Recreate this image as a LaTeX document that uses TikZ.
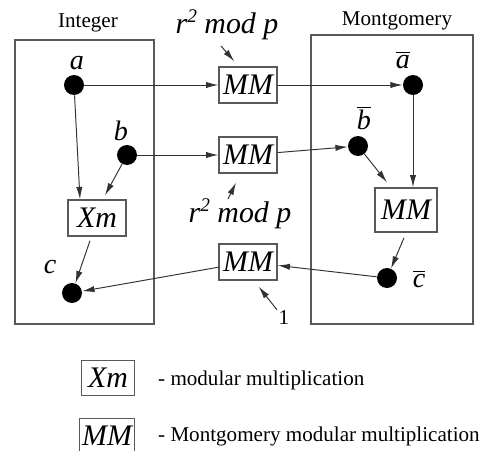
\documentclass[tikz,border=0pt]{standalone}
\usepackage{fontspec}
\setmainfont{Liberation Serif}
\usetikzlibrary{arrows.meta,calc}
\definecolor{LineClr}{rgb}{0.2,0.2,0.2}
\definecolor{BoxClr}{rgb}{0.35,0.35,0.35}

\begin{document}
\begin{tikzpicture}[x=0.02cm,y=-0.02cm,
  dot/.style={circle,fill=black,inner sep=0pt,minimum size=0.4cm},
  op/.style={draw=BoxClr,line width=0.8pt,inner sep=0pt,minimum width=1.16cm,
    minimum height=0.72cm,font=\fontsize{17}{17}\selectfont\itshape},
  var/.style={font=\fontsize{16}{16}\selectfont\itshape},
  note/.style={font=\fontsize{17}{17}\selectfont\itshape},
  arr/.style={-{Latex[length=7pt,width=3.6pt]},line width=0.55pt,color=LineClr},
  frame/.style={draw=BoxClr,line width=0.8pt}]
\useasboundingbox (0,0) rectangle (500,450);

% The two domains.
\draw[frame] (15,40) rectangle (154,324);
\draw[frame] (311,35) rectangle (473,324);
\node[font=\fontsize{12}{12}\selectfont] (int) at (88,23) {Integer};
\node[font=\fontsize{12}{12}\selectfont] (mont) at (397,21) {Montgomery};

% Points of the integer side.
\node[dot] (a) at (74,85) {};
\node[dot] (b) at (127,155) {};
\node[dot] (c) at (72,293) {};
\node[op] (xm) at (97,218) {Xm};
\node[var] at (77,63) {a};
\node[var] at (121,131) {b};
\node[var] at (50,267) {c};

% Conversions in the middle.
\node[op] (mma) at (248,85) {MM};
\node[op] (mmb) at (248,155) {MM};
\node[op] (mmc) at (248,262) {MM};
\node[note] (rtop) at (227,25) {r{\fontsize{11}{11}\selectfont\raisebox{6pt}{2}} mod p};
\node[note] (rmid) at (240,214) {r{\fontsize{11}{11}\selectfont\raisebox{6pt}{2}} mod p};
\node[font=\fontsize{12}{12}\selectfont] (one) at (284,318) {1};
\coordinate (rtopend) at (221,46);
\coordinate (rmidend) at (228,199);

% Points of the Montgomery side.
\node[dot] (abar) at (413,85) {};
\node[dot] (bbar) at (358,146) {};
\node[dot] (cbar) at (387,278) {};
\node[op,minimum width=1.24cm,minimum height=0.88cm] (mmr) at (406,210) {MM};
\node[var] at (403,60) {$\overline{\mbox{\itshape a}}$};
\node[var] at (364,118) {$\overline{\mbox{\itshape b}}$};
\node[var] at (419,279) {$\overline{\mbox{\itshape c}}$};

% Connectors.
\draw[arr] (a) -- (mma);
\draw[arr] (b) -- (mmb);
\draw[arr] (a) -- ($(xm.north)+(-17,0)$);
\draw[arr] (b) -- ($(xm.north)+(8,-4)$);
\draw[arr] ($(xm.south)+(-7,4)$) -- (c);
\draw[arr] (mmc) -- (c);
\draw[arr] (mma) -- (abar);
\draw[arr] (mmb) -- (bbar);
\draw[arr] (abar) -- (abar |- mmr.north);
\draw[arr] (bbar) -- ($(mmr.north)+(-19,-5)$);
\draw[arr] ($(mmr.south)+(-2,5)$) -- (cbar);
\draw[arr] (cbar) -- (mmc);
\draw[arr] (rtopend) -- ($(mma.north west)+(16,-5)$);
\draw[arr] (rmidend) -- ($(mmb.south)+(-12,9)$);
\draw[arr] ($(one.north)+(-7,5)$) -- ($(mmc.south east)+(-19,6)$);

% Legend.
\node[op,minimum width=1.06cm,minimum height=0.7cm] (kxm) at (108,378) {Xm};
\node[op,minimum width=1.1cm,minimum height=0.7cm] (kmm) at (107,436) {MM};
\node[anchor=west,font=\fontsize{12}{12}\selectfont] (txm) at (152,380) {- modular multiplication};
\node[anchor=west,font=\fontsize{12}{12}\selectfont] (tmm) at (152,436) {- Montgomery modular multiplication};
\end{tikzpicture}
\end{document}
